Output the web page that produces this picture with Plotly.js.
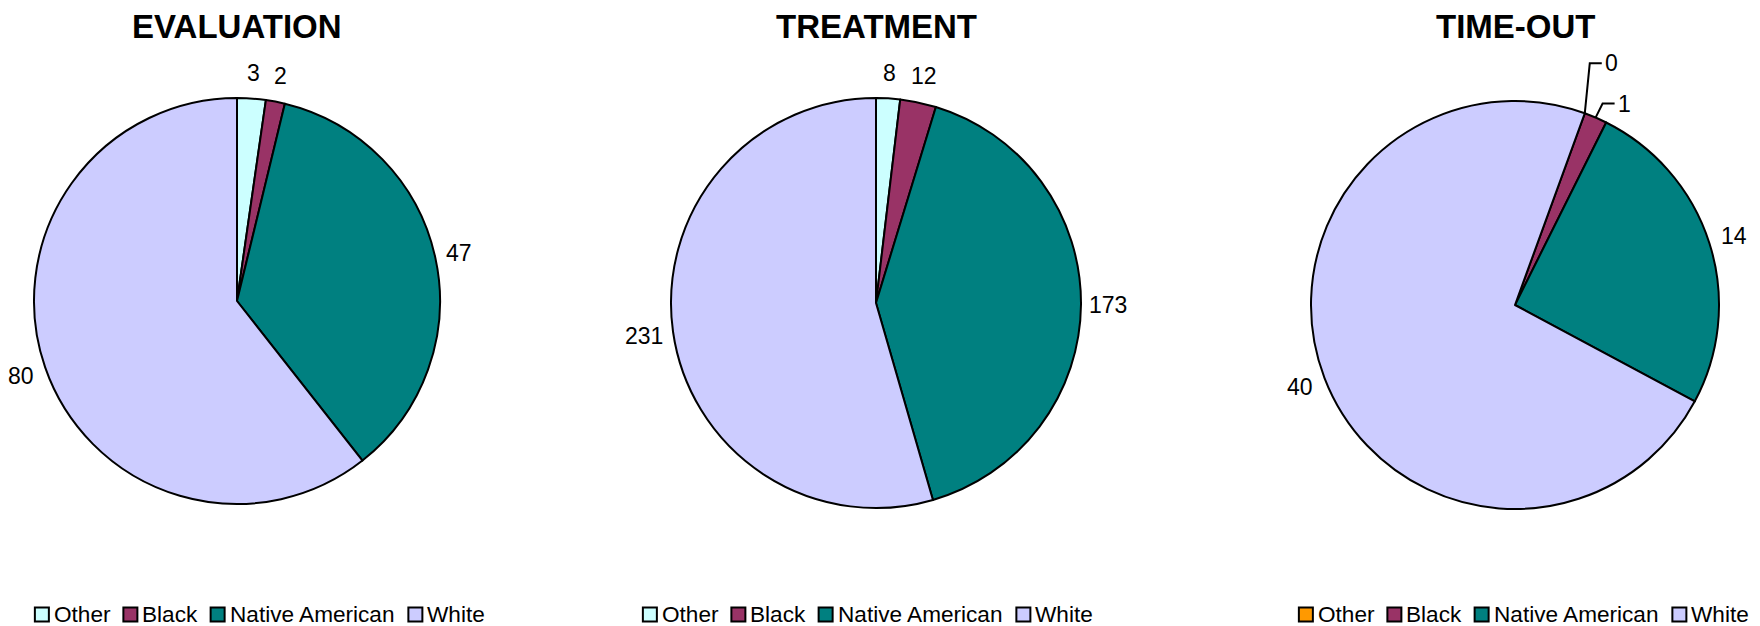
<!DOCTYPE html>
<html><head><meta charset="utf-8">
<script src="https://cdn.plot.ly/plotly-3.0.1.min.js"></script>
<style>html,body{margin:0;padding:0;background:#fff;} #chart{width:1760px;height:626px;}</style>
</head><body><div id="chart"></div>
<script>
// ---- data ----
const categories = ['Other', 'Black', 'Native American', 'White'];
const chartTitles = ['EVALUATION', 'TREATMENT', 'TIME-OUT'];
const evaluationValues = [3, 2, 47, 80];
const treatmentValues = [8, 12, 173, 231];
const timeoutValues = [0, 1, 14, 40];

// ---- style ----
const W = 1760, H = 626;
const FONT = 'Arial, "Liberation Sans", sans-serif';
const baseColors = ['#CCFFFF', '#993366', '#008080', '#CCCCFF'];
const timeoutColors = ['#FF9900', '#993366', '#008080', '#CCCCFF'];
const rotations = [0, 0, 20];
const domainsPx = [ // [x0, x1, yTop, yBottom] in pixels
  [34, 440, 98, 504],
  [671, 1081, 98, 508],
  [1311, 1719, 101, 509]
];
const legendCenters = [260, 868, 1524];
const legendY = 614.5, legendFont = 22.6, legendBox = 14, legendTextGap = 5, legendItemGap = 13;
const labelSize = 23;
const labelGap = 8, labelHalfH = 17, digitW = 0.556 * labelSize;

const seriesValues = [evaluationValues, treatmentValues, timeoutValues];
const seriesColors = [baseColors, baseColors, timeoutColors];
// slices of TIME-OUT labelled with leader lines
const leaderSlices = [0, 1];
const leaderRise = [50, 14];
const leaderRun = [5, 7];

function pxToPaperX(x) { return x / W; }
function pxToPaperY(y) { return 1 - y / H; }

const measureCtx = document.createElement('canvas').getContext('2d');
function textWidth(t, size) {
  measureCtx.font = size + 'px ' + FONT;
  return measureCtx.measureText(t).width;
}

const traces = [];
const annotations = [];
const shapes = [];

seriesValues.forEach((vals, k) => {
  const d = domainsPx[k];
  traces.push({
    type: 'pie',
    name: chartTitles[k],
    labels: categories,
    values: vals,
    sort: false,
    direction: 'clockwise',
    rotation: rotations[k],
    textinfo: 'none',
    textposition: 'none',
    marker: {colors: seriesColors[k], line: {color: '#000', width: 2}},
    domain: {x: [pxToPaperX(d[0]), pxToPaperX(d[1])], y: [pxToPaperY(d[3]), pxToPaperY(d[2])]},
    showlegend: false,
    hoverinfo: 'label+value+percent'
  });
  annotations.push({
    text: '<b>' + chartTitles[k] + '</b>',
    xref: 'paper', yref: 'paper',
    x: pxToPaperX((d[0] + d[1]) / 2), y: pxToPaperY(26.5),
    xanchor: 'center', yanchor: 'middle', showarrow: false,
    font: {family: FONT, size: 33, color: '#000'}
  });

  // value labels, placed outside each slice from the data
  const total = vals.reduce((a, b) => a + b, 0);
  const cx = (d[0] + d[1]) / 2, cy = (d[2] + d[3]) / 2;
  const r = Math.min(d[1] - d[0], d[3] - d[2]) / 2;
  let cum = 0;
  vals.forEach((v, i) => {
    const mid = rotations[k] + 360 * (cum + v / 2) / total;
    cum += v;
    const a = mid * Math.PI / 180;
    const s = Math.sin(a), c = Math.cos(a);
    const li = (k === 2) ? leaderSlices.indexOf(i) : -1;
    if (li >= 0) {
      const px = cx + r * s, py = cy - r * c;
      const ex = px + leaderRun[li], ey = py - leaderRise[li];
      const hx = ex + 12;
      shapes.push({
        type: 'path', xref: 'paper', yref: 'paper',
        path: 'M' + pxToPaperX(px) + ',' + pxToPaperY(py) + ' L' + pxToPaperX(ex) + ',' + pxToPaperY(ey) + ' L' + pxToPaperX(hx) + ',' + pxToPaperY(ey),
        line: {color: '#000', width: 2}
      });
      annotations.push({
        text: String(v), xref: 'paper', yref: 'paper',
        x: pxToPaperX(hx + 1), y: pxToPaperY(ey),
        xanchor: 'left', yanchor: 'middle', showarrow: false,
        font: {family: FONT, size: labelSize, color: '#000'}
      });
    } else {
      const w = String(v).length * digitW;
      const dist = r + labelGap + (w / 2) * Math.abs(s) + labelHalfH * Math.abs(c);
      annotations.push({
        text: String(v), xref: 'paper', yref: 'paper',
        x: pxToPaperX(cx + dist * s), y: pxToPaperY(cy - dist * c),
        xanchor: 'center', yanchor: 'middle', showarrow: false,
        font: {family: FONT, size: labelSize, color: '#000'}
      });
    }
  });

  // legend below each pie (one per chart)
  const widths = categories.map(t => textWidth(t, legendFont));
  const totalW = widths.reduce((acc, w) => acc + legendBox + legendTextGap + w, 0) + legendItemGap * (categories.length - 1);
  let x = legendCenters[k] - totalW / 2;
  categories.forEach((t, i) => {
    shapes.push({
      type: 'rect', xref: 'paper', yref: 'paper',
      x0: pxToPaperX(x), x1: pxToPaperX(x + legendBox),
      y0: pxToPaperY(legendY + legendBox / 2), y1: pxToPaperY(legendY - legendBox / 2),
      fillcolor: seriesColors[k][i], line: {color: '#000', width: 2}
    });
    annotations.push({
      text: t, xref: 'paper', yref: 'paper',
      x: pxToPaperX(x + legendBox + legendTextGap - 1), y: pxToPaperY(legendY),
      xanchor: 'left', yanchor: 'middle', showarrow: false, borderpad: 0,
      font: {family: FONT, size: legendFont, color: '#000'}
    });
    x += legendBox + legendTextGap + widths[i] + legendItemGap;
  });
});

const layout = {
  width: W, height: H,
  margin: {l: 0, r: 0, t: 0, b: 0, pad: 0, autoexpand: false},
  paper_bgcolor: '#fff', plot_bgcolor: '#fff',
  font: {family: FONT, color: '#000'},
  showlegend: false,
  annotations: annotations,
  shapes: shapes
};

Plotly.newPlot('chart', traces, layout, {displayModeBar: false, responsive: false});
</script>
</body></html>
